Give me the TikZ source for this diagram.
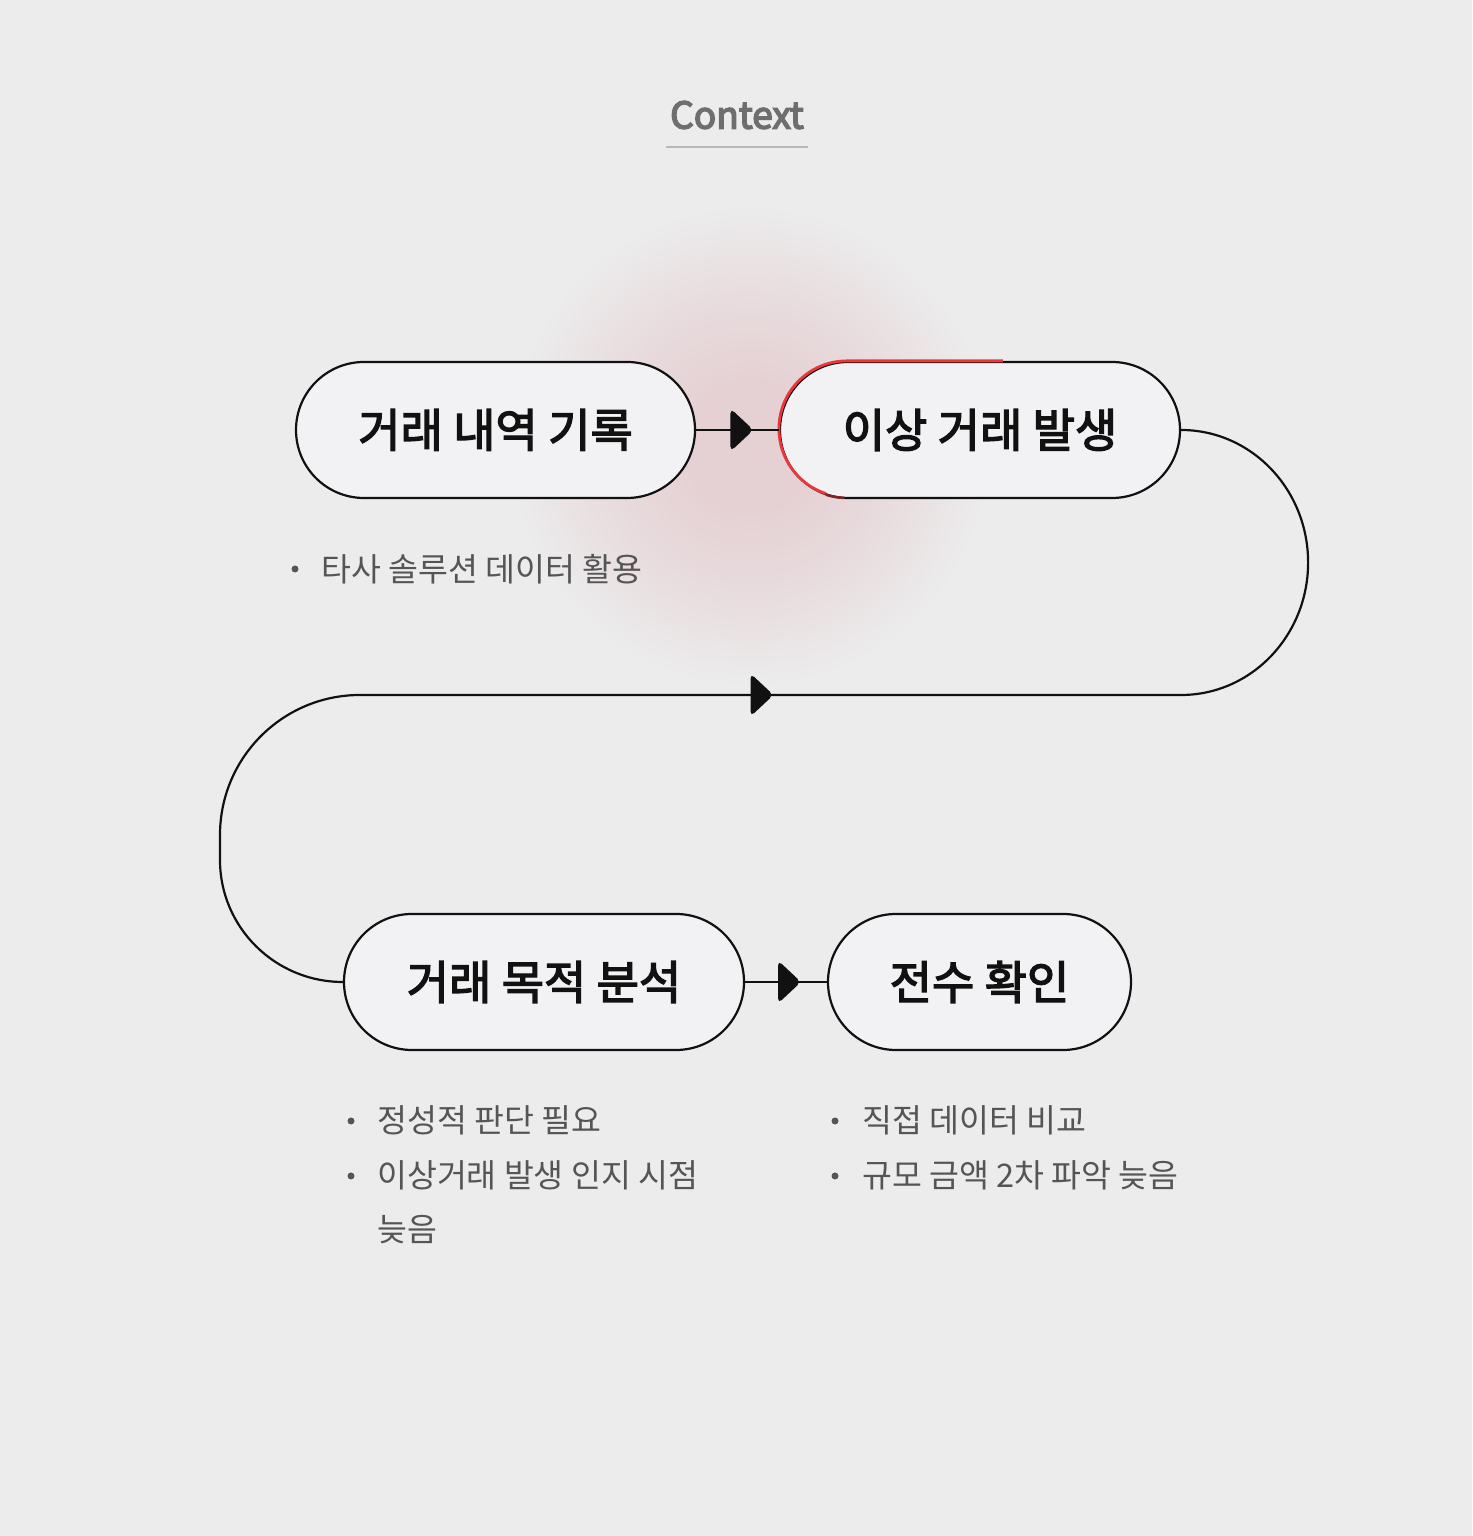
\documentclass[tikz,border=0pt]{standalone}
\usepackage{fontspec}
\setmainfont{Noto Sans CJK KR}
\newfontfamily\krmed[FakeBold=3]{Noto Sans CJK KR}
\newfontfamily\krsemi[FakeBold=4]{Noto Sans CJK KR}
\usetikzlibrary{calc}
\definecolor{bg}{HTML}{ECECEC}
\definecolor{nodefill}{HTML}{F2F2F4}
\definecolor{ink}{HTML}{111111}
\definecolor{sub}{HTML}{555555}
\definecolor{titlec}{HTML}{6E6E6E}
\definecolor{rulec}{HTML}{B8B8B8}
\definecolor{hot}{HTML}{E8383B}
\definecolor{glowc}{HTML}{E5D0D3}
\pgfdeclareradialshading{glowshade}{\pgfpoint{0bp}{0bp}}{color(0bp)=(glowc); color(6bp)=(glowc); color(16bp)=(glowc!55!bg); color(25bp)=(bg); color(50bp)=(bg)}
\tikzset{
  stepnode/.style={draw=ink, line width=2.2pt, fill=nodefill, rounded corners=68pt,
    minimum height=136pt, inner sep=0pt, text=ink,
    font=\fontsize{46}{54}\selectfont\krmed},
  flow/.style={draw=ink, line width=2.2pt},
  bullettext/.style={anchor=west, inner sep=0pt, text=sub, align=left,
    font=\fontsize{32.5}{54}\selectfont},
  dot/.style={circle, fill=sub, inner sep=0pt, minimum size=7pt},
  flowtip/.pic={\fill[ink, rounded corners=5pt] (-11,21.5) -- (12,0) -- (-11,-21.5) -- cycle;}
}
\begin{document}
\begin{tikzpicture}[x=1pt,y=1pt]
\useasboundingbox (0,0) rectangle (1472,1536);
\fill[bg] (0,0) rectangle (1472,1536);
% glow
\shade[shading=glowshade] (750,1090) circle (240);
% title
\node[font=\fontsize{37}{44}\selectfont\krsemi, text=titlec, inner sep=0pt] (title) at (737,1421) {Context};
\coordinate (ul1) at (666,1389);
\coordinate (ul2) at (808,1389);
\draw[rulec, line width=2pt] (ul1) -- (ul2);
% nodes
\node[stepnode, minimum width=399pt] (n1) at (495.5,1106) {거래 내역 기록};
\node[stepnode, minimum width=400pt] (n2) at (980,1106) {이상 거래 발생};
\node[stepnode, minimum width=400pt] (n3) at (544,554) {거래 목적 분석};
\node[stepnode, minimum width=303pt] (n4) at (979.5,554) {전수 확인};
% red highlight on n2
\draw[hot, line width=2.8pt] ($(n2.north west)+(224,0)$) -- ($(n2.north west)+(68,0)$)
  arc[start angle=90, end angle=252, radius=68];
\draw[hot!50!ink, line width=2.6pt] ($(n2.west)+(68,0)+(252:68)$) arc[start angle=252, end angle=268, radius=68];
% connectors
\draw[flow] (n1.east) -- (n2.west);
\pic at ($(n1.east)!0.548!(n2.west)$) {flowtip};
\draw[flow] (n2.east) arc[start angle=90, end angle=-90, x radius=127, y radius=132.5]
  -- coordinate[pos=0.511] (t2) (360,841)
  arc[start angle=90, end angle=180, radius=140]
  -- (220,676)
  arc[start angle=180, end angle=270, x radius=123, y radius=122]
  -- (n3.west);
\pic at (t2) {flowtip};
\draw[flow] (n3.east) -- (n4.west);
\pic at ($(n3.east)!0.537!(n4.west)$) {flowtip};
% bullet lists
\node[dot] (d1) at (295,967) {};
\node[bullettext] (t1) at (321,967) {타사 솔루션 데이터 활용};
\node[dot] (d31) at (351,415) {};
\node[bullettext] (t31) at (377,416) {정성적 판단 필요};
\node[dot] (d32) at (351,360) {};
\node[bullettext] (t32) at (377,334) {이상거래 발생 인지 시점\\늦음};
\node[dot] (d41) at (835,415) {};
\node[bullettext] (t41) at (862,416) {직접 데이터 비교};
\node[dot] (d42) at (835,360) {};
\node[bullettext] (t42) at (862,361) {규모 금액 2차 파악 늦음};
\end{tikzpicture}
\end{document}
